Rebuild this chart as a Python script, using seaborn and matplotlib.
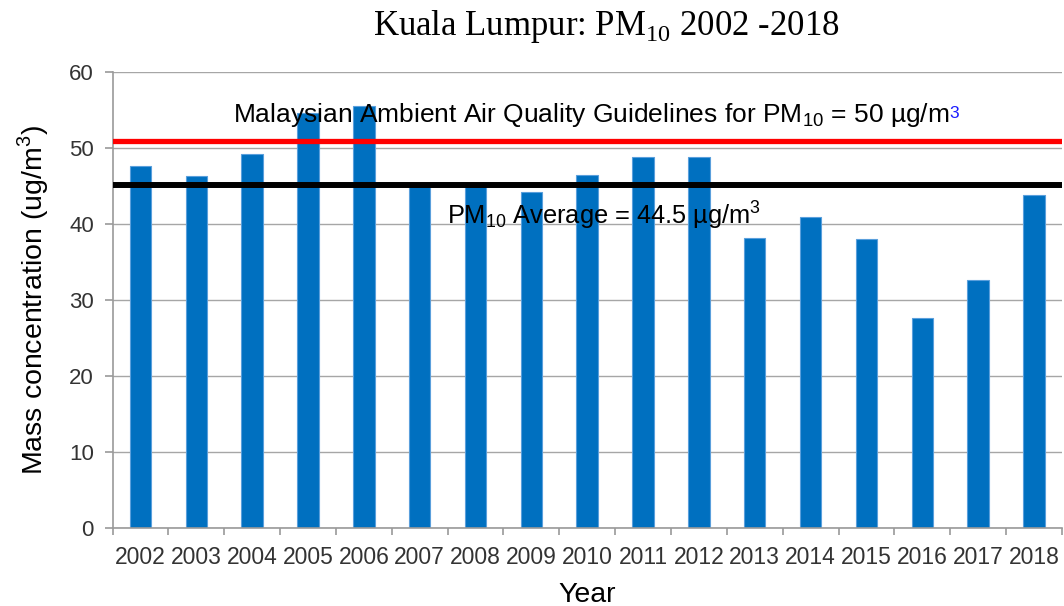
import matplotlib
matplotlib.use("Agg")
import matplotlib.pyplot as plt
import seaborn as sns
import pandas as pd

years = ["2002", "2003", "2004", "2005", "2006", "2007", "2008", "2009", "2010",
         "2011", "2012", "2013", "2014", "2015", "2016", "2017", "2018"]
pm10 = [47.6, 46.4, 49.3, 54.7, 55.5, 45.4, 45.4, 44.3, 46.5,
        48.9, 48.9, 38.2, 41.0, 38.0, 27.7, 32.7, 43.8]
guideline_line = 50.9
average_line = 45.1
y_ticks = [0, 10, 20, 30, 40, 50, 60]

title_text = "Kuala Lumpur: PM$_{\\mathregular{10}}$ 2002 -2018"
guide_text = "Malaysian Ambient Air Quality Guidelines for PM$_{\\mathregular{10}}$ = 50 µg/m"
avg_text = "PM$_{\\mathregular{10}}$ Average = 44.5 µg/m$^{\\mathregular{3}}$"
ylabel_text = "Mass concentration (ug/m$^{\\mathregular{3}}$)"
xlabel_text = "Year"

sns.set_theme(style="white")
plt.rcParams["font.family"] = ["Liberation Sans", "DejaVu Sans"]
plt.rcParams["text.color"] = "#000000"

df = pd.DataFrame({"year": years, "pm10": pm10})

fig = plt.figure(figsize=(10.64, 6.06), dpi=100)
ax = fig.add_axes([0.1058, 0.1287, 0.8922, 0.752])

ax.yaxis.grid(True, color="#a6a6a6", linewidth=1.0)
ax.set_axisbelow(True)

sns.barplot(data=df, x="year", y="pm10", color="#0070C0", saturation=1,
            width=0.385, edgecolor="#5a9fdc", linewidth=0.8, ax=ax)

ax.axhline(guideline_line, color="#ff0000", linewidth=3.8, zorder=5)
ax.axhline(average_line, color="#000000", linewidth=4.3, zorder=5)

ax.set_ylim(0, 60)
ax.set_xlim(-0.5, len(years) - 0.5)
ax.set_yticks(y_ticks)

for side in ["top", "right"]:
    ax.spines[side].set_visible(False)
for side in ["left", "bottom"]:
    ax.spines[side].set_color("#9a9a9a")
    ax.spines[side].set_linewidth(1.2)

ax.tick_params(axis="y", which="major", length=5.5, width=1.2, color="#9a9a9a",
               labelsize=16, labelcolor="#333333", pad=8, left=True)
ax.tick_params(axis="x", which="major", length=0, labelsize=16.5,
               labelcolor="#333333", pad=13)
ax.set_xticks([i - 0.5 for i in range(len(years) + 1)], minor=True)
ax.tick_params(axis="x", which="minor", length=5, width=1.2, color="#9a9a9a",
               bottom=True)

ax.set_ylabel(ylabel_text, fontsize=20.5, color="#000000", labelpad=13)
ax.set_xlabel(xlabel_text, fontsize=20.5, color="#000000", labelpad=9)

t1 = ax.text(1.65, 53.4, guide_text, fontsize=19, color="#000000",
             ha="left", va="baseline", zorder=6)
ax.annotate("3", xy=(1, 1), xycoords=t1, xytext=(0.5, -3),
            textcoords="offset points", ha="left", va="top",
            fontsize=12.5, color="#1a1aff", zorder=6)
ax.text(5.49, 40.0, avg_text, fontsize=18.3, color="#000000",
        ha="left", va="baseline", zorder=6)

fig.text(0.5695, 1 - 35 / 606, title_text, fontsize=25, ha="center",
         va="baseline", color="#000000",
         family=["Liberation Serif", "DejaVu Serif"])

fig.savefig("out.png", dpi=100)
